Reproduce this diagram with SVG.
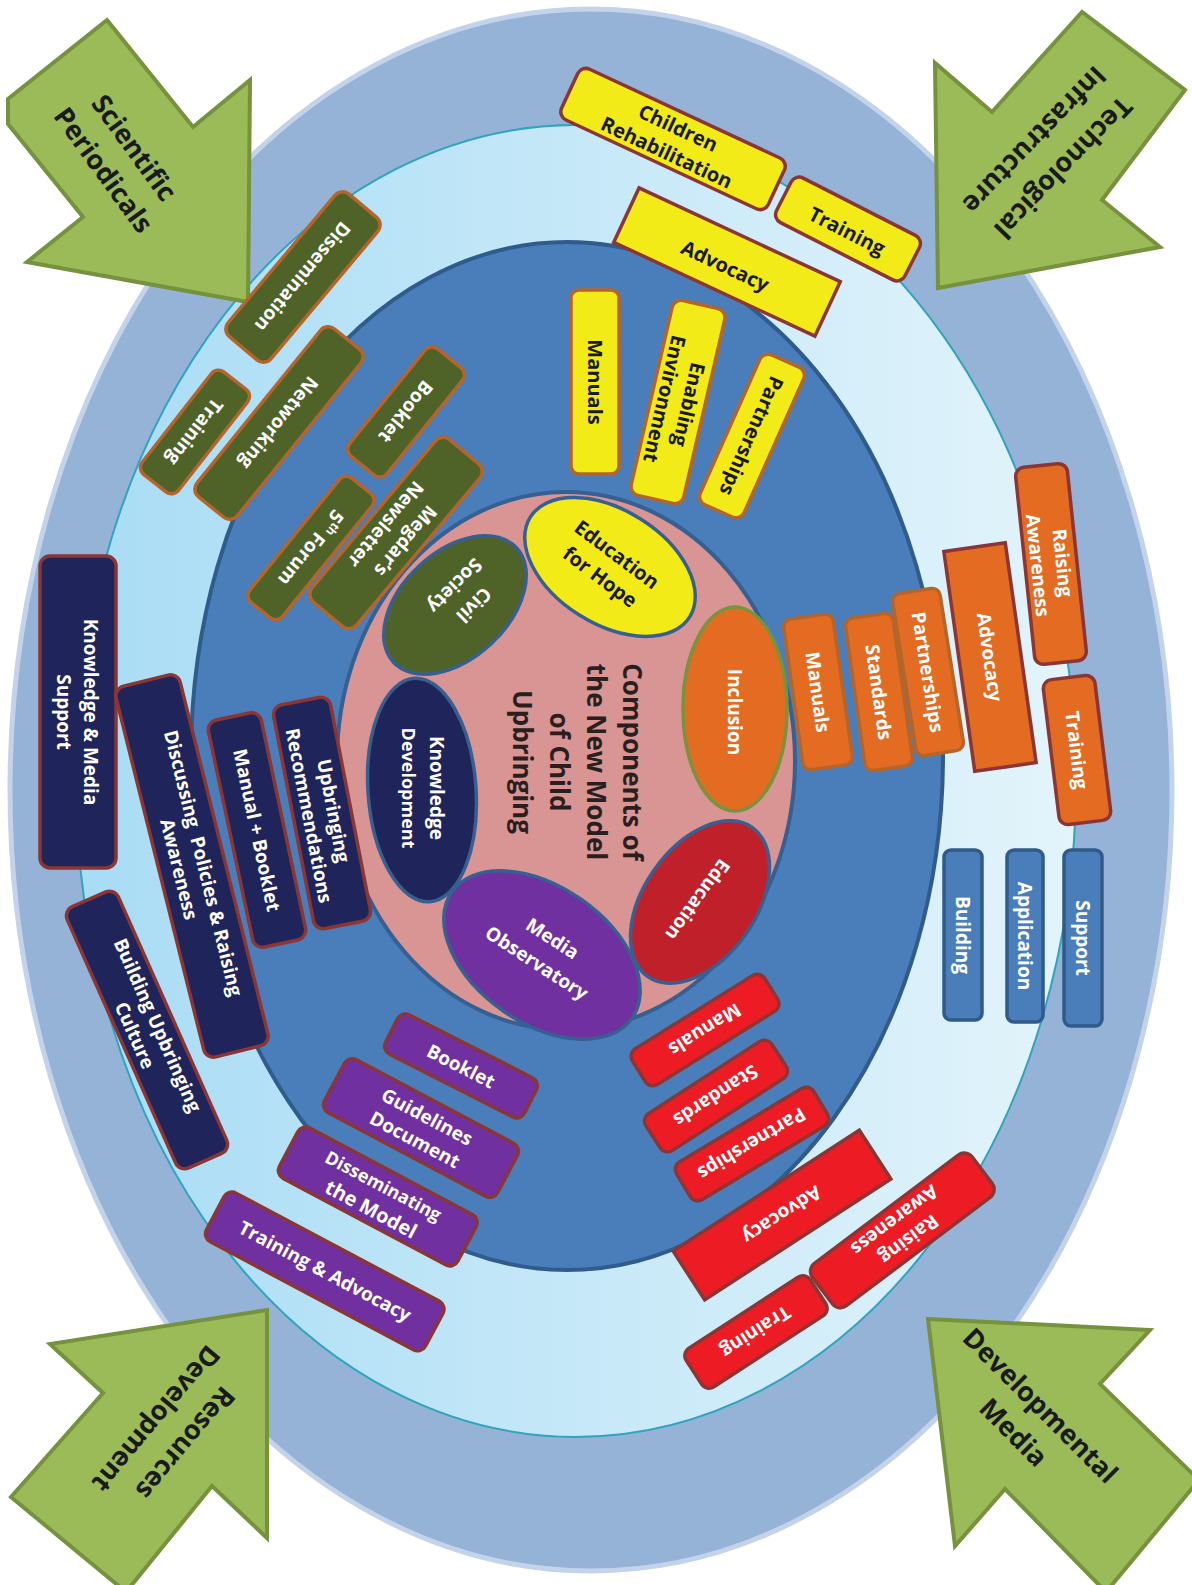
<svg xmlns="http://www.w3.org/2000/svg" width="1192" height="1585" viewBox="0 0 1192 1585">
<defs>
<linearGradient id="lb" x1="0" y1="0" x2="1" y2="0">
<stop offset="0" stop-color="#a8dcf5"/>
<stop offset="1" stop-color="#e3f4fb"/>
</linearGradient>
</defs>
<style>
text{font-family:"Open Sans","Liberation Sans",sans-serif;text-anchor:middle;dominant-baseline:central}
.k{fill:#1a1a1a;font-weight:700;font-size:20px}
.w{fill:#ffffff;font-weight:700;font-size:19px}
.y1,.y2,.g,.n,.o1,.o2,.bl,.p,.r{stroke-width:3.5}
.y1{fill:#f2eb17;stroke:#b5652a}
.y2{fill:#f2eb17;stroke:#8b3535}
.g{fill:#4f6228;stroke:#b5652a}
.n{fill:#1f245a;stroke:#8b3535}
.o1{fill:#e46c22;stroke:#b5652a}
.o2{fill:#e46c22;stroke:#8b3535}
.bl{fill:#4a7ebb;stroke:#2f5b8a}
.p{fill:#7030a0;stroke:#8b3535}
.r{fill:#ed1c24;stroke:#8b3535}
.arr{fill:#9bbb59;stroke:#76923c;stroke-width:4;stroke-linejoin:miter}
.at{fill:#1a1a1a;font-weight:700;font-size:27px}
.ce{stroke:#376092;stroke-width:3.5}
</style>
<rect width="1192" height="1585" fill="#ffffff"/>

<g id="rings">
<ellipse cx="591" cy="790" rx="581" ry="781" fill="#95b3d7" stroke="#c3d4ea" stroke-width="5"/>
<ellipse cx="576" cy="781" rx="500" ry="656" fill="url(#lb)" stroke="#2ea4c0" stroke-width="2"/>
<ellipse cx="567" cy="756" rx="376" ry="514" fill="#4a7ebb" stroke="#2f5c8c" stroke-width="4"/>
<ellipse cx="566" cy="761" rx="229" ry="269" fill="#d99594" stroke="#376092" stroke-width="4"/>
</g>

<g id="connectors"></g>

<!-- Arrows -->
<g id="arrow-scientific-periodicals">
<polygon class="arr" points="107,20 193,127 250,80 248,302 27,262 83,217 8,124 8,99"/>
<text class="at" transform="translate(120,158) rotate(54)"><tspan x="0" y="-19">Scientific</tspan><tspan x="0" y="19">Periodicals</tspan></text>
</g>
<g id="arrow-technological-infrastructure">
<polygon class="arr" points="1082,12 992,112 935,63 938,288 1160,247 1102,200 1185,90"/>
<text class="at" transform="translate(1050,155) rotate(134)"><tspan x="0" y="-20">Technological</tspan><tspan x="0" y="20">Infrastructure</tspan></text>
</g>
<g id="arrow-resources-development">
<polygon class="arr" points="267,1310 267,1538 212,1486 126,1592 11,1497 103,1393 50,1344"/>
<text class="at" transform="translate(172,1432) rotate(130)"><tspan x="0" y="-19">Resources</tspan><tspan x="0" y="19">Development</tspan></text>
</g>
<g id="arrow-developmental-media">
<polygon class="arr" points="928,1319 1150,1330 1100,1384 1199,1480 1106,1592 1005,1489 955,1546"/>
<text class="at" transform="translate(1028,1418) rotate(45)"><tspan x="0" y="-19">Developmental</tspan><tspan x="0" y="19">Media</tspan></text>
</g>

<!-- Yellow -->
<g id="y-children-rehabilitation" transform="translate(673,139) rotate(25)">
<rect class="y2" x="-114" y="-28" width="228" height="56" rx="9"/>
<text class="k"><tspan x="0" y="-13">Children</tspan><tspan x="0" y="14">Rehabilitation</tspan></text>
</g>
<g id="y-training" transform="translate(848,229) rotate(27)">
<rect class="y2" x="-72" y="-25" width="144" height="50" rx="9"/>
<text class="k" y="2">Training</text>
</g>
<g id="y-advocacy" transform="translate(727,262) rotate(25)">
<rect class="y2" x="-111" y="-30" width="222" height="60"/>
<text class="k" y="4">Advocacy</text>
</g>
<g id="y-manuals" transform="translate(595,382)">
<rect class="y1" x="-24" y="-92" width="48" height="184" rx="8"/>
<text class="k" transform="rotate(90)">Manuals</text>
</g>
<g id="y-enabling-environment" transform="translate(678,402) rotate(13)">
<rect class="y1" x="-27" y="-100" width="54" height="200" rx="9"/>
<text class="k" font-size="19" transform="rotate(90)"><tspan x="0" y="-12">Enabling</tspan><tspan x="0" y="13">Environment</tspan></text>
</g>
<g id="y-partnerships" transform="translate(752,436) rotate(24)">
<rect class="y1" x="-24" y="-82" width="48" height="164" rx="9"/>
<text class="k" transform="rotate(90)">Partnerships</text>
</g>

<!-- Green -->
<g id="g-dissemination" transform="translate(303,277) rotate(-50)">
<rect class="g" x="-93" y="-28" width="186" height="56" rx="10"/>
<text class="w" transform="rotate(180)">Dissemination</text>
</g>
<g id="g-training" transform="translate(195,432) rotate(-52)">
<rect class="g" x="-65" y="-23" width="130" height="46" rx="9"/>
<text class="w" transform="rotate(180)">Training</text>
</g>
<g id="g-networking" transform="translate(279,423) rotate(-51)">
<rect class="g" x="-108" y="-26" width="216" height="52" rx="10"/>
<text class="w" transform="rotate(180)">Networking</text>
</g>
<g id="g-booklet" transform="translate(406,412) rotate(-51)">
<rect class="g" x="-69" y="-24" width="138" height="48" rx="9"/>
<text class="w" transform="rotate(180)">Booklet</text>
</g>
<g id="g-5th-forum" transform="translate(311,548) rotate(-51)">
<rect class="g" x="-80" y="-21" width="160" height="42" rx="9"/>
<text class="w" transform="rotate(180)">5<tspan font-size="12" dy="-6">th</tspan><tspan dy="6"> Forum</tspan></text>
</g>
<g id="g-megdars-newsletter" transform="translate(396,533) rotate(-50)">
<rect class="g" x="-106" y="-29" width="212" height="58" rx="10"/>
<text class="w" transform="rotate(180)"><tspan x="0" y="-13">Megdar’s</tspan><tspan x="0" y="13">Newsletter</tspan></text>
</g>

<!-- Navy -->
<g id="n-knowledge-media-support" transform="translate(78,712)">
<rect class="n" x="-38" y="-156" width="76" height="312" rx="10"/>
<text class="w" font-size="20" transform="rotate(90)"><tspan x="0" y="-13">Knowledge &amp; Media</tspan><tspan x="0" y="14">Support</tspan></text>
</g>
<g id="n-discussing-policies" transform="translate(192,866) rotate(-14)">
<rect class="n" x="-33" y="-191" width="66" height="382" rx="10"/>
<text class="w" font-size="18" transform="rotate(90)"><tspan x="0" y="-12">Discussing&#160; Policies &amp; Raising</tspan><tspan x="0" y="13">Awareness</tspan></text>
</g>
<g id="n-building-upbringing-culture" transform="translate(147,1030) rotate(-24)">
<rect class="n" x="-28" y="-143" width="56" height="286" rx="10"/>
<text class="w" font-size="18" transform="rotate(90)"><tspan x="0" y="-12">Building Upbringing</tspan><tspan x="0" y="13">Culture</tspan></text>
</g>
<g id="n-manual-booklet" transform="translate(257,830) rotate(-12)">
<rect class="n" x="-27" y="-116" width="54" height="232" rx="10"/>
<text class="w" transform="rotate(90)">Manual + Booklet</text>
</g>
<g id="n-upbringing-recommendations" transform="translate(322,813) rotate(-11)">
<rect class="n" x="-29" y="-114" width="58" height="228" rx="10"/>
<text class="w" font-size="18" transform="rotate(90)"><tspan x="0" y="-12">Upbringing</tspan><tspan x="0" y="13">Recommendations</tspan></text>
</g>

<!-- Orange -->
<g id="o-manuals" transform="translate(818,692) rotate(-8)">
<rect class="o1" x="-25" y="-76" width="50" height="152" rx="8"/>
<text class="w" transform="rotate(90)">Manuals</text>
</g>
<g id="o-standards" transform="translate(879,692) rotate(-8)">
<rect class="o1" x="-24" y="-77" width="48" height="154" rx="8"/>
<text class="w" transform="rotate(90)">Standards</text>
</g>
<g id="o-partnerships" transform="translate(928,672) rotate(-9)">
<rect class="o1" x="-24" y="-82" width="48" height="164" rx="8"/>
<text class="w" transform="rotate(90)">Partnerships</text>
</g>
<g id="o-advocacy" transform="translate(990,657) rotate(-8)">
<rect class="o2" x="-31" y="-111" width="62" height="222"/>
<text class="w" transform="rotate(90)">Advocacy</text>
</g>
<g id="o-raising-awareness" transform="translate(1051,564) rotate(-6)">
<rect class="o2" x="-26" y="-99" width="52" height="198" rx="9"/>
<text class="w" transform="rotate(90)"><tspan x="0" y="-12">Raising</tspan><tspan x="0" y="13">Awareness</tspan></text>
</g>
<g id="o-training" transform="translate(1077,750) rotate(-7)">
<rect class="o2" x="-26" y="-73" width="52" height="146" rx="9"/>
<text class="w" transform="rotate(90)">Training</text>
</g>

<!-- Blue -->
<g id="b-building" transform="translate(963,935)">
<rect class="bl" x="-19" y="-85" width="38" height="170" rx="7"/>
<text class="w" font-size="18" transform="rotate(90)">Building</text>
</g>
<g id="b-application" transform="translate(1025,936)">
<rect class="bl" x="-18" y="-86" width="36" height="172" rx="7"/>
<text class="w" font-size="18" transform="rotate(90)">Application</text>
</g>
<g id="b-support" transform="translate(1083,938)">
<rect class="bl" x="-19" y="-88" width="38" height="176" rx="7"/>
<text class="w" font-size="18" transform="rotate(90)">Support</text>
</g>

<!-- Purple -->
<g id="p-booklet" transform="translate(461,1066) rotate(27)">
<rect class="p" x="-78" y="-22" width="156" height="44" rx="9"/>
<text class="w" font-size="20">Booklet</text>
</g>
<g id="p-guidelines-document" transform="translate(421,1128) rotate(28)">
<rect class="p" x="-98" y="-30" width="196" height="60" rx="9"/>
<text class="w" font-size="20"><tspan x="0" y="-13">Guidelines</tspan><tspan x="0" y="13">Document</tspan></text>
</g>
<g id="p-disseminating-the-model" transform="translate(378,1196) rotate(28)">
<rect class="p" x="-101" y="-28" width="202" height="57" rx="9"/>
<text class="w"><tspan x="0" y="-12" font-size="18">Disseminating</tspan><tspan x="0" y="14" font-size="20">the Model</tspan></text>
</g>
<g id="p-training-advocacy" transform="translate(325,1271) rotate(28)">
<rect class="p" x="-124" y="-27" width="248" height="55" rx="9"/>
<text class="w" font-size="20">Training &amp; Advocacy</text>
</g>

<!-- Red -->
<g id="r-manuals" transform="translate(705,1030) rotate(-32)">
<rect class="r" x="-78" y="-21" width="156" height="42" rx="9"/>
<text class="w" font-size="18" transform="rotate(180)">Manuals</text>
</g>
<g id="r-standards" transform="translate(716,1096) rotate(-33)">
<rect class="r" x="-75" y="-22" width="150" height="44" rx="9"/>
<text class="w" font-size="18" transform="rotate(180)">Standards</text>
</g>
<g id="r-partnerships" transform="translate(752,1144) rotate(-31)">
<rect class="r" x="-80" y="-22" width="160" height="44" rx="9"/>
<text class="w" font-size="18" transform="rotate(180)">Partnerships</text>
</g>
<g id="r-advocacy" transform="translate(782,1215) rotate(-33)">
<rect class="r" x="-111" y="-29" width="222" height="58"/>
<text class="w" transform="rotate(180)">Advocacy</text>
</g>
<g id="r-training" transform="translate(756,1332) rotate(-33)">
<rect class="r" x="-74" y="-23" width="148" height="46" rx="9"/>
<text class="w" font-size="18" transform="rotate(180)">Training</text>
</g>
<g id="r-raising-awareness" transform="translate(902,1230) rotate(-37)">
<rect class="r" x="-100" y="-26" width="200" height="53" rx="10"/>
<text class="w" font-size="18" transform="rotate(180)"><tspan x="0" y="-12">Raising</tspan><tspan x="0" y="12">Awareness</tspan></text>
</g>

<!-- Core components -->
<g id="c-education-for-hope">
<ellipse class="ce" transform="translate(610,567) rotate(32)" rx="94" ry="57" fill="#f2eb17"/>
<text class="k" font-size="21" transform="translate(609,565) rotate(37)"><tspan x="0" y="-14">Education</tspan><tspan x="0" y="14">for Hope</tspan></text>
</g>
<g id="c-civil-society">
<ellipse class="ce" transform="translate(455,605) rotate(-43)" rx="84" ry="53" fill="#4f6228"/>
<text class="w" font-size="20" transform="translate(465,596) rotate(135)"><tspan x="0" y="-13">Civil</tspan><tspan x="0" y="14">Society</tspan></text>
</g>
<g id="c-inclusion">
<ellipse cx="735" cy="709" rx="52" ry="102" fill="#e46c22" stroke="#77933c" stroke-width="3.5"/>
<text class="w" font-size="20" transform="translate(735,712) rotate(90)">Inclusion</text>
</g>
<g id="c-education">
<ellipse class="ce" transform="translate(700,902) rotate(-55)" rx="91" ry="56" fill="#c0202a"/>
<text class="w" font-size="20" transform="translate(698,900) rotate(126)">Education</text>
</g>
<g id="c-media-observatory">
<ellipse class="ce" transform="translate(542,955) rotate(35)" rx="110" ry="68" fill="#7030a0"/>
<text class="w" font-size="21" transform="translate(545,950) rotate(33)"><tspan x="0" y="-14">Media</tspan><tspan x="0" y="15">Observatory</tspan></text>
</g>
<g id="c-knowledge-development">
<ellipse class="ce" transform="translate(422,790) rotate(-4)" rx="54" ry="112" fill="#1f245a"/>
<text class="w" transform="translate(423,788) rotate(90)"><tspan x="0" y="-14" font-size="19">Knowledge</tspan><tspan x="0" y="14" font-size="18">Development</tspan></text>
</g>
<g id="center-title">
<text fill="#2a1f1f" font-weight="700" font-size="26" transform="translate(578,762) rotate(90)"><tspan x="0" y="-55">Components of</tspan><tspan x="0" y="-18.5">the New Model</tspan><tspan x="0" y="18">of Child</tspan><tspan x="0" y="55">Upbringing</tspan></text>
</g>
</svg>
